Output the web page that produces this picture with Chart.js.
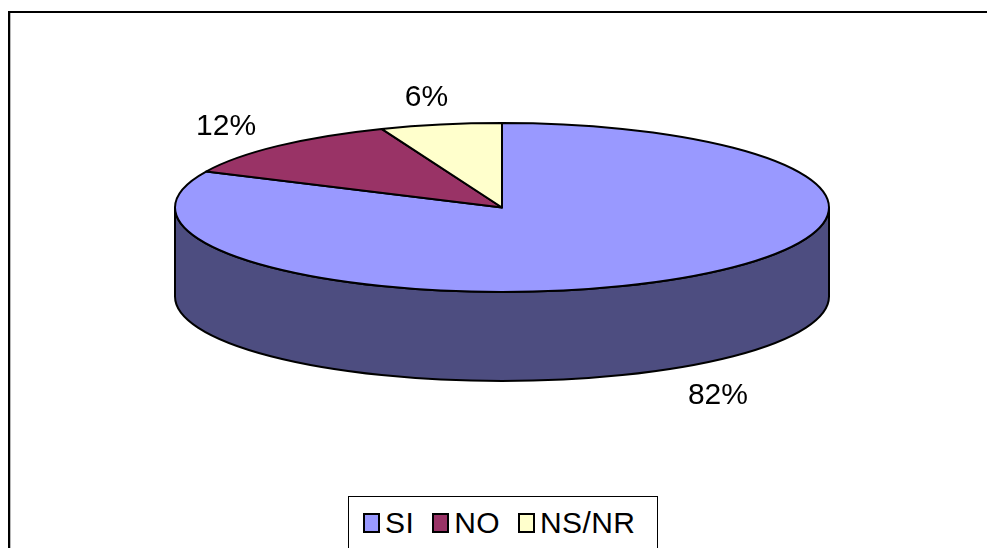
<!DOCTYPE html>
<html>
<head>
<meta charset="utf-8">
<script src="https://cdn.jsdelivr.net/npm/chart.js@4.4.1/dist/chart.umd.min.js"></script>
<style>
  html, body { margin: 0; padding: 0; background: #fff; overflow: hidden; width: 987px; height: 548px; }
  #frame { position: absolute; left: 8px; top: 11px; width: 1200px; height: 800px;
           border-left: 2px solid #000; border-top: 2px solid #000; box-shadow: inset 1px 0 0 #b8b8b8; }
  #wrap { position: absolute; left: 0; top: 0; width: 987px; height: 548px; }
  #legend { position: absolute; left: 348px; top: 496px; width: 310px; height: 90px; box-sizing: border-box;
            border: 1px solid #000; background: #fff; color: #000;
            font: 30px 'Liberation Sans', Arial, sans-serif; letter-spacing: 0.4px; }
  #legend ul { list-style: none; margin: 0; padding: 11px 0 0 14px; display: flex; align-items: center; line-height: 30px; }
  #legend li { display: flex; align-items: center; margin-right: 18px; white-space: nowrap; }
  #legend .sw { width: 17px; height: 20px; box-sizing: border-box; border: 2px solid #000; margin-right: 5px; }
</style>
</head>
<body>
<div id="frame"></div>
<div id="wrap"><canvas id="c"></canvas></div>
<div id="legend"></div>
<script>
// Answers and their shares (percent)
const categories = ['SI', 'NO', 'NS/NR'];
const shares = [82, 12, 6];
const sliceColors = ['#9999FF', '#993366', '#FFFFCC'];

// Projection of the pie into a tilted disc
const TILT = 0.2584;      // vertical squash of the top face
const DEPTH = 0.272;      // wall height relative to the horizontal radius
const LABEL_DX = 76;      // label ring beyond the rim, horizontally
const LABEL_DY = 30;      // label ring beyond the rim, vertically

function shade(hex, f) {
  const n = parseInt(hex.slice(1), 16);
  const r = Math.round(((n >> 16) & 255) * f);
  const g = Math.round(((n >> 8) & 255) * f);
  const b = Math.round((n & 255) * f);
  return `rgb(${r},${g},${b})`;
}

const tiltedPie = {
  id: 'tiltedPie',
  beforeDatasetsDraw(chart) {
    const ctx = chart.ctx;
    const area = chart.chartArea;
    const meta = chart.getDatasetMeta(0);
    const arcs = meta.data;
    const rx = (area.right - area.left) / 2;
    const ry = rx * TILT;
    const depth = rx * DEPTH;
    const cx = arcs[0].x;
    const cy = area.top + ry;

    ctx.save();
    ctx.lineWidth = 2;
    ctx.lineJoin = 'round';
    ctx.strokeStyle = '#000';

    // front wall of each slice
    arcs.forEach(arc => {
      const { startAngle, endAngle } = arc.getProps(['startAngle', 'endAngle'], true);
      for (const k of [-2 * Math.PI, 0, 2 * Math.PI]) {
        const a = Math.max(startAngle, k);
        const b = Math.min(endAngle, k + Math.PI);
        if (b - a <= 1e-6) continue;
        ctx.beginPath();
        ctx.ellipse(cx, cy, rx, ry, 0, a, b, false);
        ctx.lineTo(cx + rx * Math.cos(b), cy + ry * Math.sin(b) + depth);
        ctx.ellipse(cx, cy + depth, rx, ry, 0, b, a, true);
        ctx.closePath();
        ctx.fillStyle = shade(arc.options.backgroundColor, 0.5);
        ctx.fill();
        ctx.stroke();
      }
    });

    // top faces
    arcs.forEach(arc => {
      const { startAngle, endAngle } = arc.getProps(['startAngle', 'endAngle'], true);
      ctx.beginPath();
      ctx.moveTo(cx, cy);
      ctx.ellipse(cx, cy, rx, ry, 0, startAngle, endAngle, false);
      ctx.closePath();
      ctx.fillStyle = arc.options.backgroundColor;
      ctx.fill();
      ctx.stroke();
    });

    // percentage labels
    const values = chart.data.datasets[0].data;
    const total = values.reduce((s, v) => s + v, 0);
    ctx.fillStyle = '#000';
    ctx.font = "30px 'Liberation Sans', Arial, sans-serif";
    ctx.textAlign = 'center';
    ctx.textBaseline = 'alphabetic';
    arcs.forEach((arc, i) => {
      const { startAngle, endAngle } = arc.getProps(['startAngle', 'endAngle'], true);
      const mid = (startAngle + endAngle) / 2;
      const s = Math.sin(mid);
      const x = cx + (rx + LABEL_DX) * Math.cos(mid);
      const y = cy + (ry + LABEL_DY) * s + (s > 0 ? depth : 0);
      ctx.fillText(Math.round(values[i] / total * 100) + '%', x, y + 10.7);
    });

    ctx.restore();
    return false;
  }
};

const chart = new Chart(document.getElementById('c'), {
  type: 'pie',
  data: {
    labels: categories,
    datasets: [{ data: shares, backgroundColor: sliceColors, borderColor: '#000', borderWidth: 2 }]
  },
  options: {
    responsive: true,
    maintainAspectRatio: false,
    animation: false,
    layout: { padding: { left: 175, right: 158, top: 123, bottom: 167 } },
    plugins: { legend: { display: false }, tooltip: { enabled: false } }
  },
  plugins: [tiltedPie]
});

// legend built from the chart's own legend items
const items = Chart.overrides.pie.plugins.legend.labels.generateLabels(chart);
const ul = document.createElement('ul');
items.forEach(it => {
  const li = document.createElement('li');
  const sw = document.createElement('span');
  sw.className = 'sw';
  sw.style.background = it.fillStyle;
  li.appendChild(sw);
  li.appendChild(document.createTextNode(it.text));
  ul.appendChild(li);
});
document.getElementById('legend').appendChild(ul);
</script>
</body>
</html>
